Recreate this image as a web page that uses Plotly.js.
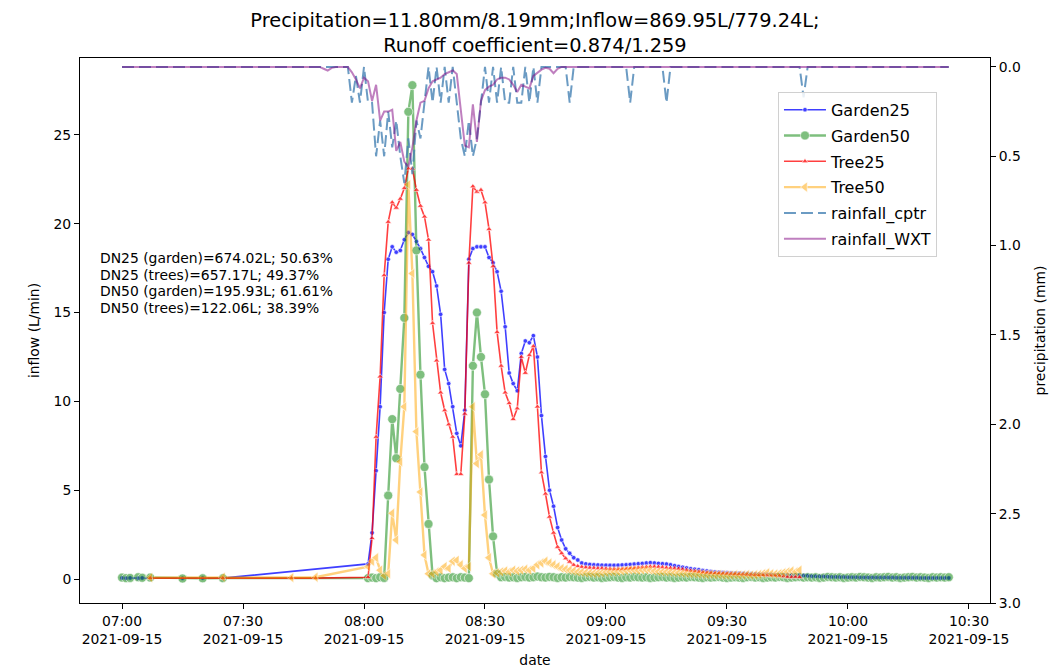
<!DOCTYPE html>
<html>
<head>
<meta charset="utf-8">
<script src="https://cdn.plot.ly/plotly-3.0.1.min.js"></script>
<style>html,body{margin:0;padding:0;background:#fff;}#chart{width:1058px;height:671px;}</style>
</head>
<body>
<div id="chart"></div>
<script>
// ---------------- DATA ----------------
var DAY = '2021-09-15 ';
// Garden loggers (DN25 + DN50): early sparse samples, then 1-minute samples from 08:01
var gardenEarlyTimes = ['07:00','07:01','07:02','07:04','07:05','07:07','07:15','07:20','07:25'];
var garden25Early = [0.06,0.05,0.06,0.05,0.06,0.05,0.05,0.06,0.05];
var garden50Early = [0.08,0.05,0.06,0.1,0.07,0.08,0.03,0.04,0.05];
var gardenMinuteStart = '08:01';
var garden25 = [
  0.85, 2.6, 6.1, 9.7, 15.0, 18.0, 18.7, 18.4, 18.5, 19.1,
  19.5, 19.4, 19.0, 18.6, 18.1, 17.6, 17.3, 16.5, 14.9, 11.8,
  11.0, 9.7, 8.2, 7.5, 9.5, 18.0, 18.6, 18.7, 18.7, 18.7,
  18.1, 17.8, 17.3, 16.2, 14.2, 11.6, 11.0, 10.6, 12.7, 13.4,
  13.3, 13.7, 12.5, 9.2, 6.9, 5.0, 4.1, 2.9, 2.2, 1.7,
  1.45, 1.2, 1.07, 0.9, 0.85, 0.82, 0.8, 0.79, 0.78, 0.78,
  0.77, 0.77, 0.78, 0.79, 0.8, 0.82, 0.84, 0.86, 0.88, 0.9,
  0.92, 0.9, 0.88, 0.86, 0.84, 0.8, 0.75, 0.7, 0.66, 0.62,
  0.58, 0.55, 0.52, 0.48, 0.45, 0.42, 0.4, 0.38, 0.36, 0.35,
  0.34, 0.33, 0.32, 0.31, 0.3, 0.29, 0.28, 0.27, 0.26, 0.25,
  0.24, 0.23, 0.23, 0.22, 0.22, 0.22, 0.21, 0.21, 0.2, 0.18,
  0.16, 0.15, 0.14, 0.14, 0.13, 0.12, 0.12, 0.11, 0.11, 0.1,
  0.1, 0.1, 0.09, 0.09, 0.09, 0.09, 0.08, 0.08, 0.08, 0.08,
  0.08, 0.07, 0.07, 0.07, 0.07, 0.07, 0.07, 0.06, 0.06, 0.06,
  0.06, 0.06, 0.06, 0.06, 0.06
];
var garden50 = [
  0.05, 0.08, 0.05, 0.1, 0.06, 4.7, 9.0, 6.8, 10.7, 14.7,
  26.3, 27.8, 18.5, 11.5, 6.3, 3.1, 0.2, 0.05, 0.1, 0.05,
  0.08, 0.1, 0.05, 0.1, 0.08, 0.05, 12.0, 15.0, 12.5, 10.4,
  5.6, 2.4, 0.3, 0.1, 0.12, 0.08, 0.1, 0.06, 0.1, 0.12,
  0.08, 0.1, 0.14, 0.1, 0.08, 0.12, 0.1, 0.06, 0.1, 0.08,
  0.12, 0.1, 0.08, 0.06, 0.1, 0.12, 0.08, 0.1, 0.06, 0.08,
  0.1, 0.12, 0.08, 0.06, 0.1, 0.08, 0.12, 0.1, 0.08, 0.1,
  0.06, 0.08, 0.1, 0.12, 0.08, 0.1, 0.06, 0.08, 0.1, 0.08,
  0.12, 0.1, 0.08, 0.06, 0.1, 0.08, 0.1, 0.12, 0.08, 0.06,
  0.08, 0.1, 0.08, 0.06, 0.1, 0.12, 0.08, 0.1, 0.06, 0.08,
  0.1, 0.08, 0.12, 0.1, 0.06, 0.08, 0.1, 0.12, 0.08, 0.1,
  0.08, 0.1, 0.06, 0.08, 0.12, 0.1, 0.08, 0.1, 0.06, 0.08,
  0.1, 0.08, 0.12, 0.1, 0.08, 0.06, 0.1, 0.08, 0.1, 0.12,
  0.08, 0.1, 0.06, 0.08, 0.1, 0.12, 0.08, 0.1, 0.08, 0.06,
  0.1, 0.08, 0.1, 0.08, 0.1
];
// Tree loggers (DN25 + DN50)
var treeEarlyTimes = ['07:07','07:25','07:42','07:48'];
var tree25Early = [0.05,0.05,0.05,0.05];
var tree50Early = [0.08,0.1,0.08,0.1];
var treeMinuteStart = '08:01';
var tree25 = [
  0.1, 2.3, 8.0, 11.4, 17.1, 20.1, 21.2, 20.9, 21.4, 22.0,
  23.1, 23.1, 21.9, 21.0, 20.4, 19.1, 14.4, 12.3, 10.5, 9.5,
  8.7, 8.0, 5.9, 5.9, 9.3, 17.8, 22.1, 21.8, 21.9, 21.2,
  19.7, 17.6, 13.9, 12.0, 10.5, 9.9, 9.0, 9.6, 12.5, 11.6,
  12.6, 13.1, 9.7, 6.0, 4.8, 3.5, 2.6, 1.8, 1.45, 1.16,
  0.97, 0.79, 0.72, 0.68, 0.65, 0.63, 0.62, 0.6, 0.6, 0.58,
  0.57, 0.56, 0.56, 0.57, 0.58, 0.6, 0.62, 0.64, 0.66, 0.68,
  0.7, 0.7, 0.68, 0.66, 0.64, 0.62, 0.6, 0.58, 0.55, 0.5,
  0.47, 0.44, 0.41, 0.38, 0.36, 0.34, 0.33, 0.32, 0.31, 0.3,
  0.29, 0.28, 0.27, 0.26, 0.25, 0.24, 0.23, 0.22, 0.22, 0.21,
  0.2, 0.2, 0.18, 0.15, 0.12, 0.1, 0.12, 0.1
];
var tree50 = [
  0.7, 1.0, 1.2, 0.5, 0.2, 0.3, 3.7, 2.2, 6.6, 9.7,
  22.2, 17.2, 8.3, 4.9, 1.35, 0.3, 0.3, 0.4, 0.5, 0.7,
  0.6, 1.0, 1.05, 0.8, 0.6, 0.7, 9.7, 6.5, 7.0, 3.6,
  1.2, 0.3, 0.35, 0.4, 0.45, 0.4, 0.5, 0.45, 0.5, 0.55,
  0.5, 0.6, 0.8, 0.9, 1.0, 0.9, 0.8, 0.7, 0.6, 0.55,
  0.5, 0.45, 0.4, 0.38, 0.35, 0.33, 0.32, 0.33, 0.35, 0.38,
  0.4, 0.4, 0.42, 0.45, 0.48, 0.5, 0.5, 0.48, 0.5, 0.52,
  0.5, 0.45, 0.42, 0.4, 0.4, 0.38, 0.36, 0.35, 0.33, 0.32,
  0.3, 0.3, 0.28, 0.27, 0.25, 0.26, 0.24, 0.25, 0.23, 0.22,
  0.22, 0.24, 0.22, 0.23, 0.25, 0.22, 0.24, 0.26, 0.3, 0.35,
  0.3, 0.28, 0.3, 0.35, 0.4, 0.45, 0.4, 0.5
];
// Rainfall (mm): 07:00, 1-minute samples 07:48-08:53, then sparse samples
var rainMinuteStart = '07:48';
var rainTailTimes = ['09:05','09:06','09:07','09:14','09:15','09:16','09:48','09:49','09:50','10:25'];
var rainWXT = [
  0,
  0, 0, 0.01, 0.02, 0.005, 0, 0, 0, 0, 0.03, 0.07, 0.12,
  0.06, 0.08, 0.19, 0.1, 0.3, 0.25, 0.25, 0.24, 0.47, 0.42,
  0.53, 0.56, 0.45, 0.3, 0.2, 0.19, 0.12, 0.08, 0.07, 0.06,
  0.04, 0.03, 0.02, 0.04, 0.23, 0.44, 0.45, 0.21, 0.42, 0.19,
  0.13, 0.11, 0.1, 0.07, 0.06, 0.06, 0.07, 0.1, 0.14, 0.1,
  0.11, 0.12, 0.05, 0.03, 0.015, 0.005, 0.01, 0.035, 0.01, 0,
  0, 0, 0, 0,
  0, 0, 0, 0, 0, 0, 0, 0, 0, 0
];
var rainCptr = [
  0,
  0, 0, 0, 0, 0, 0, 0, 0, 0, 0.2, 0.05, 0.2,
  0, 0.2, 0.2, 0.5, 0.3, 0.5, 0.25, 0.45, 0.3, 0.5,
  0.65, 0.4, 0.6, 0.3, 0.4, 0.2, 0, 0.2, 0, 0.2,
  0, 0.2, 0, 0.2, 0.4, 0.5, 0.3, 0.5, 0.4, 0.2,
  0, 0.2, 0, 0.2, 0, 0.2, 0.2, 0, 0.2, 0.2,
  0, 0.2, 0, 0.2, 0, 0, 0, 0, 0, 0,
  0, 0.2, 0, 0,
  0, 0.2, 0, 0, 0.2, 0, 0, 0.17, 0, 0
];
var xTickVals = ['07:00','07:30','08:00','08:30','09:00','09:30','10:00','10:30'];
var annotationLines = [
  'DN25 (garden)=674.02L; 50.63%',
  'DN25 (trees)=657.17L; 49.37%',
  'DN50 (garden)=195.93L; 61.61%',
  'DN50 (trees)=122.06L; 38.39%'
];
var titleText = 'Precipitation=11.80mm/8.19mm;Inflow=869.95L/779.24L;<br>Runoff coefficient=0.874/1.259';

// ---------------- helpers ----------------
function stamp(hhmm){ return DAY + hhmm; }
function pad(n){ return (n<10?'0':'') + n; }
function minuteSeq(startHHMM, n){
  var p = startHHMM.split(':'); var t = (+p[0])*60 + (+p[1]); var out = [];
  for (var i=0;i<n;i++){ var m=t+i; out.push(DAY + pad(Math.floor(m/60)) + ':' + pad(m%60)); }
  return out;
}
var gardenX = gardenEarlyTimes.map(stamp).concat(minuteSeq(gardenMinuteStart, garden25.length));
var treeX = treeEarlyTimes.map(stamp).concat(minuteSeq(treeMinuteStart, tree25.length));
var rainX = [stamp('07:00')].concat(minuteSeq(rainMinuteStart, 66)).concat(rainTailTimes.map(stamp));

var F = 'DejaVu Sans, Verdana, sans-serif';
function tr(name, x, y, color, opacity, width, symbol, size, axis, dash){
  var t = {type:'scatter', mode: symbol ? 'lines+markers' : 'lines', name:name, x:x, y:y,
    opacity:opacity, legendgroup:name,
    line:{color:color, width:width, dash: dash || 'solid'}, hoverinfo:'skip'};
  if (symbol) t.marker = {symbol:symbol, size:size, color:color, line:{color:'white', width:0.6}};
  if (axis) t.yaxis = axis;
  return t;
}
var data = [
  tr('Garden25', gardenX, garden25Early.concat(garden25), 'blue', 0.75, 1.6, 'circle', 4.5),
  tr('Garden50', gardenX, garden50Early.concat(garden50), 'green', 0.5, 2.4, 'circle', 9),
  tr('Tree25', treeX, tree25Early.concat(tree25), 'red', 0.75, 1.6, 'triangle-up', 5.5),
  tr('Tree50', treeX, tree50Early.concat(tree50), 'orange', 0.5, 2.4, 'triangle-left', 9),
  tr('rainfall_cptr', rainX, rainCptr, 'steelblue', 0.8, 2, null, 0, 'y2', '12px,5px'),
  tr('rainfall_WXT', rainX, rainWXT, 'purple', 0.5, 2, null, 0, 'y2')
];

var annYs = [258, 274.5, 291, 307.5];
var annotations = annotationLines.map(function(s, i){
  return {xref:'paper', yref:'paper', x:(98-80)/910, y:1-(annYs[i]-58)/545, xanchor:'left', yanchor:'middle',
    align:'left', showarrow:false, text:s, font:{size:13.9, color:'black'}};
});

var layout = {
  width:1058, height:671,
  margin:{l:80, r:68, t:58, b:68, pad:0},
  paper_bgcolor:'white', plot_bgcolor:'white',
  font:{family:F, size:13.9, color:'black'},
  showlegend:true,
  title:{text:titleText, x:0.5, xref:'paper', xanchor:'center', y:0.9605, yref:'container', yanchor:'top',
         font:{family:F, size:19.4, color:'black'}},
  xaxis:{type:'date', range:[stamp('06:49:35'), stamp('10:35:13')],
    tickvals: xTickVals.map(stamp), ticktext: xTickVals.map(function(t){return t+'<br>'+DAY.trim();}),
    ticks:'outside', ticklen:5, tickcolor:'black', showline:true, linecolor:'black', linewidth:1, mirror:true,
    showgrid:false, zeroline:false, tickfont:{size:13.9},
    title:{text:'date', font:{size:13.9}, standoff:9}},
  yaxis:{range:[-1.35, 29.33], tickvals:[0,5,10,15,20,25], ticks:'outside', ticklen:5, tickcolor:'black',
    showline:true, linecolor:'black', linewidth:1, showgrid:false, zeroline:false, tickfont:{size:13.9},
    title:{text:'inflow (L/min)', font:{size:13.9}, standoff:10}},
  yaxis2:{overlaying:'y', side:'right', range:[3.0, -0.05], tickvals:[0,0.5,1,1.5,2,2.5,3], tickformat:'.1f',
    ticks:'outside', ticklen:5, tickcolor:'black', showline:true, linecolor:'black', linewidth:1,
    showgrid:false, zeroline:false, tickfont:{size:13.9},
    title:{text:'precipitation (mm)', font:{size:13.9}, standoff:15}},
  legend:{x:0.767, y:0.938, xanchor:'left', yanchor:'top', bgcolor:'rgba(255,255,255,0.85)',
    bordercolor:'#d0d0d0', borderwidth:1, font:{size:16}, traceorder:'grouped', tracegroupgap:2,
    itemwidth:42},
  annotations: annotations
};
Plotly.newPlot('chart', data, layout, {displayModeBar:false, staticPlot:true});
</script>
</body>
</html>
